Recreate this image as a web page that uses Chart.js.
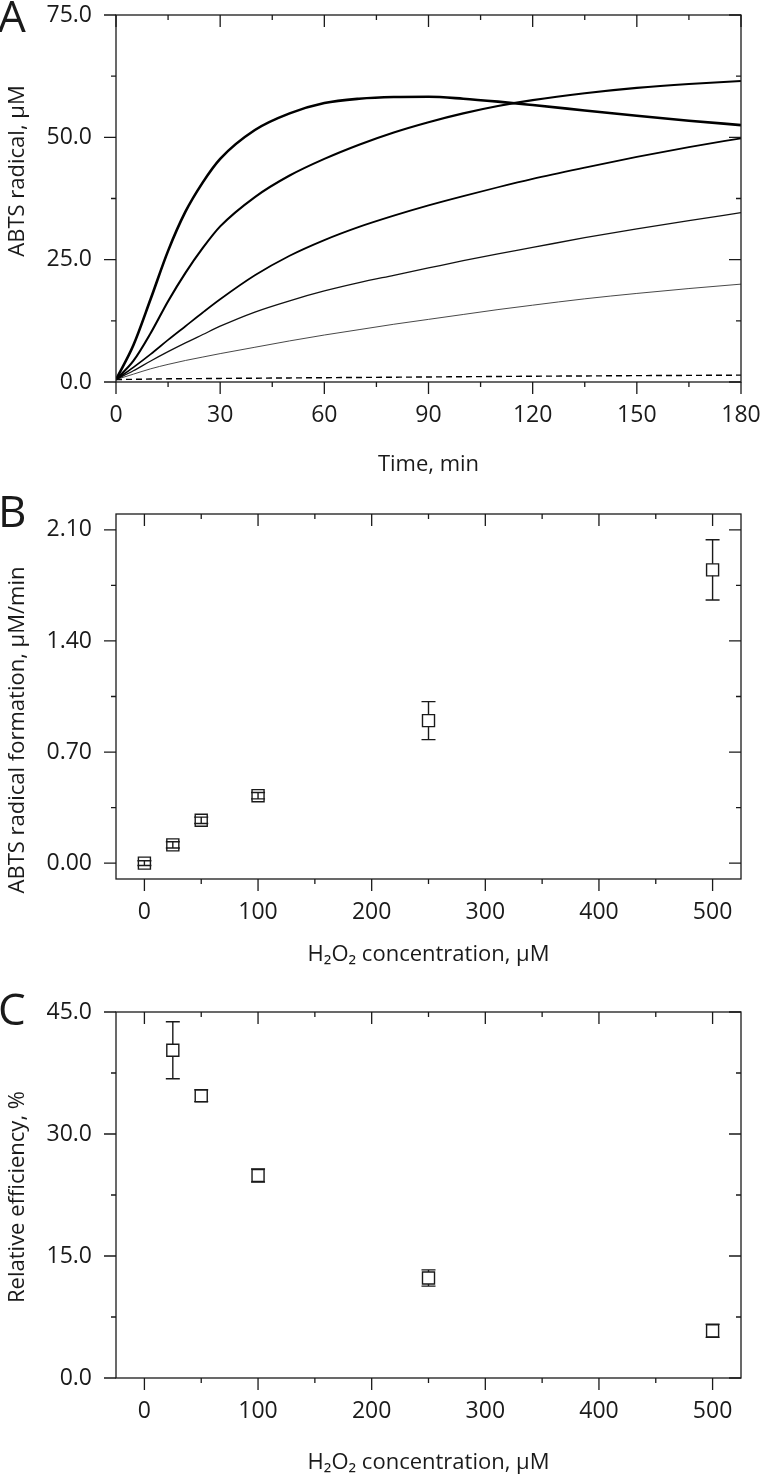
<!DOCTYPE html>
<html>
<head>
<meta charset="utf-8">
<script src="https://cdn.jsdelivr.net/npm/chart.js@4.4.1/dist/chart.umd.min.js"></script>
<style>
  body { margin: 0; background: #fff; width: 760px; height: 1476px; position: relative; overflow: hidden; }
  .panel { position: absolute; left: 0; width: 760px; }
</style>
</head>
<body>
<div class="panel" style="top:0;height:480px"><canvas id="chartA"></canvas></div>
<div class="panel" style="top:490px;height:480px"><canvas id="chartB"></canvas></div>
<div class="panel" style="top:990px;height:486px"><canvas id="chartC"></canvas></div>
<script>
/* ============================================
   DATA
============================================ */

// Panel A - ABTS radical vs time, one curve per H2O2 level
const timeMin = [0, 5, 10, 15, 20, 25, 30, 40, 50, 60, 70, 80, 90, 100, 110, 120, 135, 150, 165, 180];
const curve500 = [0.5, 7.5, 17, 26.8, 34.8, 40.8, 45.6, 51.5, 54.9, 57, 57.9, 58.25, 58.3, 57.9, 57.3, 56.6, 55.5, 54.4, 53.4, 52.5];
const curve250 = [0.5, 4.3, 10, 16.5, 22.3, 27.4, 31.8, 37.8, 42.2, 45.6, 48.5, 51, 53.1, 54.9, 56.4, 57.6, 59.0, 60.1, 60.9, 61.5];
const curve100 = [0.5, 3.0, 5.7, 8.6, 11.4, 14.2, 16.9, 21.8, 25.8, 29.0, 31.7, 34.0, 36.1, 38.0, 39.8, 41.5, 43.8, 46.0, 48.0, 49.8];
const curve50 = [0.5, 2.3, 4.3, 6.2, 8.0, 9.7, 11.4, 14.3, 16.6, 18.6, 20.3, 21.8, 23.3, 24.8, 26.2, 27.5, 29.5, 31.3, 33.0, 34.6];
const curve25 = [0.5, 1.6, 2.7, 3.6, 4.4, 5.1, 5.8, 7.1, 8.4, 9.6, 10.7, 11.8, 12.8, 13.8, 14.8, 15.7, 17.0, 18.1, 19.1, 20.0];
const curve0 = [0.5, 0.55, 0.6, 0.65, 0.68, 0.7, 0.73, 0.78, 0.83, 0.88, 0.93, 0.98, 1.03, 1.08, 1.13, 1.18, 1.24, 1.3, 1.35, 1.4];

// Panel B - rate of ABTS radical formation
const h2o2B = [0, 25, 50, 100, 250, 500];
const rateB = [0.0, 0.115, 0.27, 0.425, 0.898, 1.848];
const rateErrB = [0.015, 0.02, 0.02, 0.02, 0.12, 0.19];

// Panel C - relative efficiency
const h2o2C = [25, 50, 100, 250, 500];
const effC = [40.3, 34.7, 24.9, 12.3, 5.8];
const effErrC = [3.5, 0.72, 0.8, 1.0, 0.8];

// tick labels
const ticksAx = [0, 30, 60, 90, 120, 150, 180];
const ticksAy = [0, 25, 50, 75];
const ticksConcX = [0, 100, 200, 300, 400, 500];
const ticksBy = [0, 0.7, 1.4, 2.1];
const ticksCy = [0, 15, 30, 45];

/* ============================================
   Helpers
============================================ */

const FONT = "'Open Sans', 'DejaVu Sans', sans-serif";
const INK = "#1a1a1a";

Chart.defaults.font.family = FONT;
Chart.defaults.color = INK;

function minorsOf(majors, min, max) {
    const step = majors[1] - majors[0];
    const out = [];
    for (let v = majors[0] - step / 2; v <= max + 1e-9; v += step) {
        if (v >= min - 1e-9 && !majors.some(m => Math.abs(m - v) < 1e-9)) out.push(v);
    }
    return out;
}

// frame, ticks on four sides, panel letter, y title, error bars
const panelDeco = {
    id: "panelDeco",
    afterDatasetsDraw(chart, args, opts) {
        if (!opts.errors) return;
        const ctx = chart.ctx;
        const xs = chart.scales.x, ys = chart.scales.y;
        const half = 6, cap = 7;
        ctx.save();
        ctx.strokeStyle = INK;
        ctx.lineWidth = 1.4;
        opts.errors.xs.forEach((xv, i) => {
            const x = xs.getPixelForValue(xv);
            const y = ys.getPixelForValue(opts.errors.ys[i]);
            const yHi = ys.getPixelForValue(opts.errors.ys[i] + opts.errors.err[i]);
            const yLo = ys.getPixelForValue(opts.errors.ys[i] - opts.errors.err[i]);
            ctx.beginPath();
            if (y - yHi >= half - 0.5) {
                ctx.moveTo(x, yHi); ctx.lineTo(x, y - half);
                ctx.moveTo(x, y + half); ctx.lineTo(x, yLo);
            } else {
                ctx.moveTo(x, yHi); ctx.lineTo(x, yLo);
            }
            ctx.moveTo(x - cap, yHi); ctx.lineTo(x + cap, yHi);
            ctx.moveTo(x - cap, yLo); ctx.lineTo(x + cap, yLo);
            ctx.stroke();
        });
        ctx.restore();
    },
    afterDraw(chart, args, opts) {
        const ctx = chart.ctx;
        const a = chart.chartArea;
        const xs = chart.scales.x, ys = chart.scales.y;
        const major = 12, minor = 5;
        ctx.save();
        ctx.strokeStyle = INK;
        ctx.lineWidth = 1.3;
        ctx.strokeRect(a.left, a.top, a.right - a.left, a.bottom - a.top);
        ctx.beginPath();
        const xMaj = opts.xMajor, yMaj = opts.yMajor;
        const xMin = minorsOf(xMaj, xs.min, xs.max), yMin = minorsOf(yMaj, ys.min, ys.max);
        const xTick = (v, len) => {
            const p = xs.getPixelForValue(v);
            ctx.moveTo(p, a.bottom); ctx.lineTo(p, a.bottom + len);
            ctx.moveTo(p, a.top); ctx.lineTo(p, a.top + len);
        };
        const yTick = (v, len) => {
            const p = ys.getPixelForValue(v);
            ctx.moveTo(a.left, p); ctx.lineTo(a.left - len, p);
            ctx.moveTo(a.right, p); ctx.lineTo(a.right - len, p);
        };
        xMaj.forEach(v => xTick(v, major));
        xMin.forEach(v => xTick(v, minor));
        yMaj.forEach(v => yTick(v, major));
        yMin.forEach(v => yTick(v, minor));
        ctx.stroke();

        // panel letter
        ctx.fillStyle = INK;
        ctx.font = "44px " + FONT;
        ctx.textAlign = "left";
        ctx.textBaseline = "alphabetic";
        ctx.fillText(opts.letter, -2, opts.letterY);

        // y axis title
        ctx.font = "22px " + FONT;
        ctx.translate(opts.yTitleX, opts.yTitleY);
        ctx.rotate(-Math.PI / 2);
        ctx.textAlign = "center";
        ctx.fillText(opts.yTitle, 0, 0);
        ctx.restore();
    }
};

function xScale(min, max, majors, title, titlePad, axisHeight) {
    return {
        type: "linear",
        min: min,
        max: max,
        afterBuildTicks: s => { s.ticks = majors.map(v => ({ value: v })); },
        afterFit: s => { s.height = axisHeight; s.paddingLeft = 0; s.paddingRight = 0; },
        grid: { display: false, drawTicks: false },
        border: { display: false },
        ticks: { padding: 20, font: { size: 23 }, color: INK, maxRotation: 0, callback: v => String(v) },
        title: { display: true, text: title, font: { size: 22 }, color: INK, padding: { top: 0, bottom: titlePad } }
    };
}

function yScale(min, max, majors, digits) {
    return {
        type: "linear",
        min: min,
        max: max,
        afterBuildTicks: s => { s.ticks = majors.map(v => ({ value: v })); },
        afterFit: s => { s.width = 116; s.paddingTop = 0; s.paddingBottom = 0; },
        grid: { display: false, drawTicks: false },
        border: { display: false },
        ticks: { padding: 24, font: { size: 23 }, color: INK, callback: v => Number(v).toFixed(digits) }
    };
}

function lineSet(values, width, color, dash) {
    return {
        data: timeMin.map((t, i) => ({ x: t, y: values[i] })),
        borderColor: color,
        borderWidth: width,
        borderDash: dash || [],
        pointRadius: 0,
        fill: false,
        cubicInterpolationMode: "monotone"
    };
}

function pointSet(xs, ys) {
    return {
        data: xs.map((x, i) => ({ x: x, y: ys[i] })),
        showLine: false,
        pointStyle: "rect",
        pointRadius: 8.5,
        pointBackgroundColor: "#fff",
        pointBorderColor: INK,
        pointBorderWidth: 1.4
    };
}

const baseOptions = {
    responsive: true,
    maintainAspectRatio: false,
    animation: false,
    events: [],
    plugins: { legend: { display: false }, tooltip: { enabled: false } }
};

/* ============================================
   Panel A
============================================ */

new Chart(document.getElementById("chartA"), {
    type: "line",
    data: {
        datasets: [
            lineSet(curve500, 2.6, "#000"),
            lineSet(curve250, 2.1, "#000"),
            lineSet(curve100, 1.7, "#000"),
            lineSet(curve50, 1.3, "#111"),
            lineSet(curve25, 0.9, "#333"),
            lineSet(curve0, 1.4, "#000", [6, 4])
        ]
    },
    options: {
        ...baseOptions,
        layout: { padding: { top: 15, right: 19, bottom: 0, left: 0 } },
        scales: {
            x: xScale(0, 180, ticksAx, "Time, min", 2, 98),
            y: yScale(0, 75, ticksAy, 1)
        },
        plugins: {
            ...baseOptions.plugins,
            panelDeco: { letter: "A", letterY: 32, yTitle: "ABTS radical, μM", yTitleX: 24, yTitleY: 171, xMajor: ticksAx, yMajor: ticksAy }
        }
    },
    plugins: [panelDeco]
});

/* ============================================
   Panel B
============================================ */

new Chart(document.getElementById("chartB"), {
    type: "scatter",
    data: { datasets: [pointSet(h2o2B, rateB)] },
    options: {
        ...baseOptions,
        layout: { padding: { top: 24, right: 19, bottom: 0, left: 0 } },
        scales: {
            x: xScale(-25, 525, ticksConcX, "H₂O₂ concentration, μM", 2, 91),
            y: yScale(-0.1, 2.2, ticksBy, 2)
        },
        plugins: {
            ...baseOptions.plugins,
            panelDeco: {
                letter: "B", letterY: 37, yTitle: "ABTS radical formation, μM/min", yTitleX: 24, yTitleY: 240,
                xMajor: ticksConcX, yMajor: ticksBy,
                errors: { xs: h2o2B, ys: rateB, err: rateErrB }
            }
        }
    },
    plugins: [panelDeco]
});

/* ============================================
   Panel C
============================================ */

new Chart(document.getElementById("chartC"), {
    type: "scatter",
    data: { datasets: [pointSet(h2o2C, effC)] },
    options: {
        ...baseOptions,
        layout: { padding: { top: 22, right: 19, bottom: 0, left: 0 } },
        scales: {
            x: xScale(-25, 525, ticksConcX, "H₂O₂ concentration, μM", 0, 98),
            y: yScale(0, 45, ticksCy, 1)
        },
        plugins: {
            ...baseOptions.plugins,
            panelDeco: {
                letter: "C", letterY: 35, yTitle: "Relative efficiency, %", yTitleX: 24, yTitleY: 207,
                xMajor: ticksConcX, yMajor: ticksCy,
                errors: { xs: h2o2C, ys: effC, err: effErrC }
            }
        }
    },
    plugins: [panelDeco]
});
</script>
</body>
</html>
